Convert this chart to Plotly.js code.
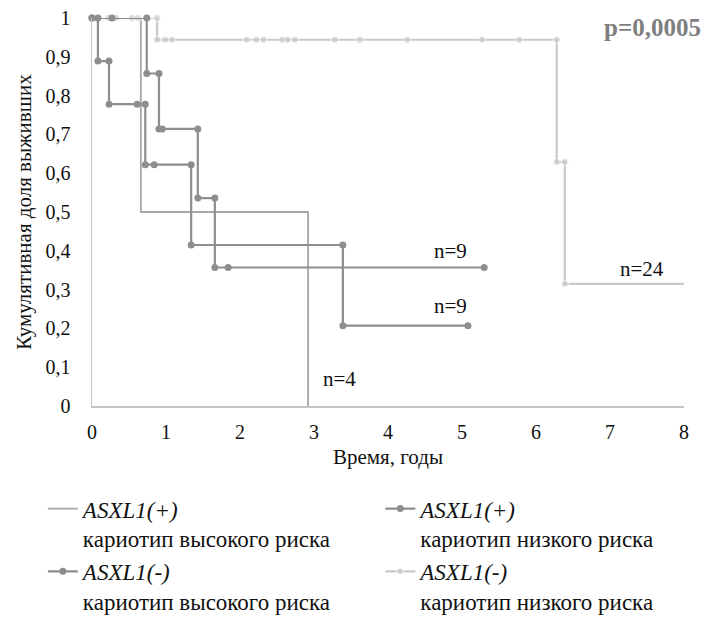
<!DOCTYPE html>
<html>
<head>
<meta charset="utf-8">
<script src="https://cdn.plot.ly/plotly-3.0.1.min.js"></script>
<style>html,body{margin:0;padding:0;background:#fff;}#chart{width:703px;height:621px;}</style>
</head>
<body>
<div id="chart"></div>
<script>
// ASXL1(+) high-risk karyotype (step corners)
const posHighX = [0, 0.66, 0.66, 2.92, 2.92];
const posHighY = [1, 1, 0.5, 0.5, 0];
// ASXL1(+) low-risk karyotype
const posLowX = [0, 0.27, 0.74, 0.74, 0.905, 0.905, 0.95, 1.43, 1.43, 1.66, 1.66, 1.84, 5.30];
const posLowY = [1, 1, 1, 0.857, 0.857, 0.714, 0.714, 0.714, 0.536, 0.536, 0.357, 0.357, 0.357];
// ASXL1(-) high-risk karyotype
const negHighX = [0, 0.08, 0.08, 0.23, 0.23, 0.61, 0.72, 0.72, 0.84, 1.34, 1.34, 3.39, 3.39, 5.08];
const negHighY = [1, 1, 0.889, 0.889, 0.778, 0.778, 0.778, 0.622, 0.622, 0.622, 0.415, 0.415, 0.207, 0.207];
// ASXL1(-) low-risk karyotype
const negLowX = [0, 0.22, 0.33, 0.54, 0.62, 0.88, 0.88, 0.99, 1.08, 2.09, 2.22, 2.32, 2.57, 2.64, 2.74, 3.28, 3.62, 4.26, 5.27, 5.77, 6.28, 6.28, 6.39, 6.39, 8.0];
const negLowY = [1, 1, 1, 1, 1, 1, 0.944, 0.944, 0.944, 0.944, 0.944, 0.944, 0.944, 0.944, 0.944, 0.944, 0.944, 0.944, 0.944, 0.944, 0.944, 0.629, 0.629, 0.315, 0.315];

const seriesNames = [
  "<i>ASXL1(+)</i><br>кариотип высокого риска",
  "<i>ASXL1(+)</i><br>кариотип низкого риска",
  "<i>ASXL1(-)</i><br>кариотип высокого риска",
  "<i>ASXL1(-)</i><br>кариотип низкого риска"
];
const nLabels = ["n=4", "n=9", "n=9", "n=24"];
const nLabelX = [3.35, 4.84, 4.84, 7.43];
const nLabelY = [0.07, 0.40, 0.258, 0.353];
const pText = "p=0,0005";
const xTitle = "Время, годы";
const yTitle = "Кумулятивная доля выживших";

const SERIF = "'Times New Roman', 'Liberation Serif', serif";
const DARK = "#8e8e8e", MID = "#a6a6a6", LIGHT = "#c9c9c9";

const lastHidden = n => Array.from({length: n}, (_, i) => i === n - 1 ? 0 : 7);

const traces = [
  {x: posHighX, y: posHighY, name: seriesNames[0], mode: "lines",
   line: {color: MID, width: 1.8}, legend: "legend", legendgroup: "a"},
  {x: negLowX, y: negLowY, name: seriesNames[3], mode: "lines+markers",
   line: {color: LIGHT, width: 2.2}, marker: {color: LIGHT, size: lastHidden(negLowX.length)},
   legend: "legend2", legendgroup: "d"},
  {x: negHighX, y: negHighY, name: seriesNames[2], mode: "lines+markers",
   line: {color: DARK, width: 2.2}, marker: {color: DARK, size: 7},
   legend: "legend", legendgroup: "c"},
  {x: posLowX, y: posLowY, name: seriesNames[1], mode: "lines+markers",
   line: {color: DARK, width: 2.2}, marker: {color: DARK, size: 7},
   legend: "legend2", legendgroup: "b"}
];
traces.forEach(t => { t.cliponaxis = false; t.hoverinfo = "skip"; });
traces[0].legendrank = 1; traces[2].legendrank = 3;
traces[3].legendrank = 2; traces[1].legendrank = 4;

const annotations = nLabels.map((t, i) => ({
  x: nLabelX[i], y: nLabelY[i], xref: "x", yref: "y", text: t, showarrow: false,
  font: {family: SERIF, size: 21, color: "#111"}
}));
annotations.push({
  x: 1.0, xanchor: "right", xref: "paper", y: 0.975, yref: "paper", yanchor: "middle",
  xshift: 19, text: "<b>" + pText + "</b>", showarrow: false,
  font: {family: SERIF, size: 25, color: "#7f7f7f"}
});

const legendBase = {
  orientation: "v", xanchor: "left", yanchor: "top", y: -0.209,
  valign: "top", tracegroupgap: 0, itemwidth: 30,
  font: {family: SERIF, size: 23, color: "#111"},
  bgcolor: "rgba(0,0,0,0)", traceorder: "grouped"
};

const layout = {
  width: 703, height: 621,
  margin: {l: 92, r: 19, t: 18, b: 215, autoexpand: false},
  paper_bgcolor: "#fff", plot_bgcolor: "#fff",
  separators: ", ",
  showlegend: true,
  font: {family: SERIF, size: 20, color: "#111"},
  xaxis: {
    range: [0, 8], dtick: 1, tick0: 0, showgrid: false, zeroline: false,
    showline: true, linecolor: "#c4c4c4", linewidth: 1.5, ticks: "",
    ticklabelstandoff: 7,
    tickfont: {family: SERIF, size: 20, color: "#111"},
    title: {text: xTitle, font: {family: SERIF, size: 21, color: "#111"}, standoff: 8}
  },
  yaxis: {
    range: [0, 1], dtick: 0.1, tick0: 0, showgrid: false, zeroline: false,
    showline: true, linecolor: "#c4c4c4", linewidth: 1.5, ticks: "",
    ticklabelstandoff: 16,
    tickfont: {family: SERIF, size: 20, color: "#111"},
    title: {text: yTitle, font: {family: SERIF, size: 21, color: "#111"}, standoff: 8}
  },
  legend: Object.assign({}, legendBase, {x: -0.083}),
  legend2: Object.assign({}, legendBase, {x: 0.487}),
  annotations: annotations
};

Plotly.newPlot("chart", traces, layout, {displayModeBar: false, staticPlot: true});
</script>
</body>
</html>
